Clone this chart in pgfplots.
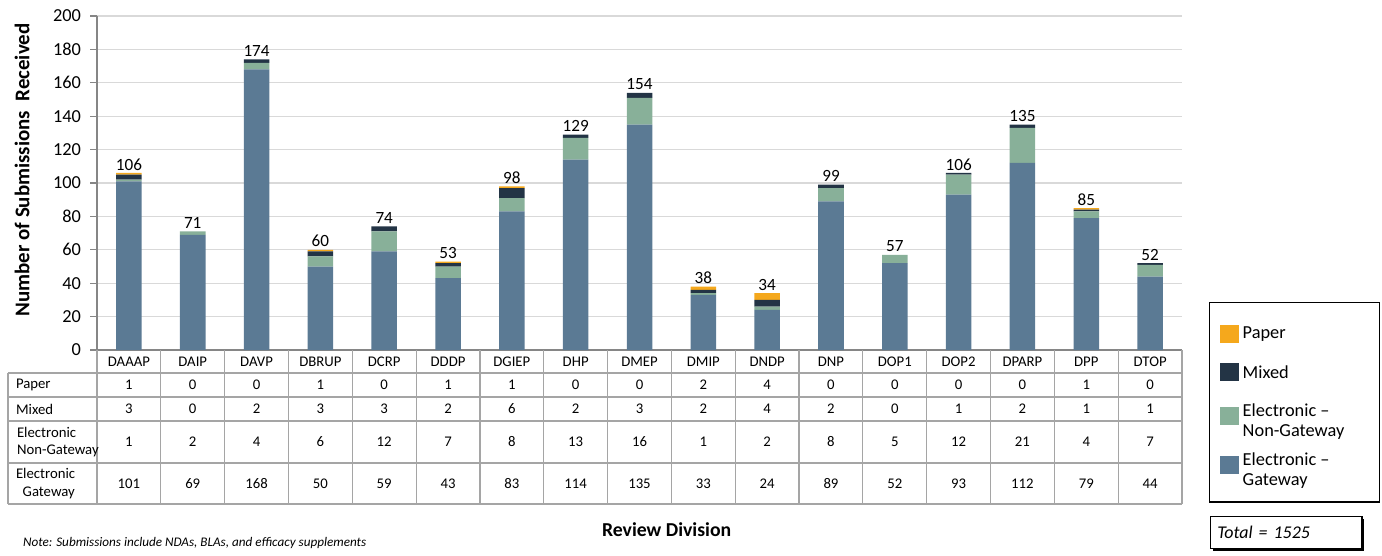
\documentclass[border=0pt]{standalone}
\usepackage{pgfplots}
\pgfplotsset{compat=1.18}
\usepackage{pgfplotstable}
\usepackage{fontspec}
\setmainfont{Carlito}
\usetikzlibrary{shadows}

\definecolor{cpaper}{RGB}{245,168,28}
\definecolor{cmixed}{RGB}{35,52,69}
\definecolor{cnongw}{RGB}{136,176,153}
\definecolor{cgw}{RGB}{91,122,148}
\definecolor{tblline}{RGB}{165,165,165}
\definecolor{axline}{RGB}{134,134,134}
\definecolor{gridc}{RGB}{217,217,217}

% submissions per review division
\pgfplotstableread{
i  div    paper mixed nongw gw  total
0  DAAAP  1     3     1     101 106
1  DAIP   0     0     2     69  71
2  DAVP   0     2     4     168 174
3  DBRUP  1     3     6     50  60
4  DCRP   0     3     12    59  74
5  DDDP   1     2     7     43  53
6  DGIEP  1     6     8     83  98
7  DHP    0     2     13    114 129
8  DMEP   0     3     16    135 154
9  DMIP   2     2     1     33  38
10 DNDP   4     4     2     24  34
11 DNP    0     2     8     89  99
12 DOP1   0     0     5     52  57
13 DOP2   0     1     12    93  106
14 DPARP  0     2     21    112 135
15 DPP    1     1     4     79  85
16 DTOP   0     1     7     44  52
}\subs

\newcommand\tblfont{\fontsize{7.4}{8.6}\selectfont}
\pgfplotsset{
  frame/.style={
    at={(0,0)}, anchor=south west,
    scale only axis, width=542.5bp, height=167bp,
    xmin=-0.5, xmax=16.5, ymin=0, ymax=200,
    /pgf/number format/assume math mode=true,
  }
}

\begin{document}
\begin{tikzpicture}
% page = reference canvas, in pixels
\begin{scope}[x=0.5bp, y=-0.5bp, shift={(-48.5bp,175bp)}]
  \path[use as bounding box] (0,0) rectangle (1382,554);
\end{scope}

\begin{axis}[
    frame,
    ybar stacked, bar width=0.4,
    xtick=\empty,
    ytick={0,20,...,200},
    ytick align=outside, major tick length=3.5bp,
    tick style={axline, line width=0.6pt},
    axis y line*=left, axis x line*=bottom,
    axis line style={axline, line width=0.8pt, -},
    ymajorgrids, major grid style={gridc, line width=0.6pt},
    yticklabel style={font=\fontsize{9.2}{11}\selectfont, xshift=-1bp},
    ylabel={Number of Submissions\ \ Received},
    ylabel style={font=\bfseries\fontsize{10.5}{12}\selectfont,
        at={(axis description cs:-0.069,0.539)}, anchor=center},
    xlabel={Review Division},
    xlabel style={font=\bfseries\fontsize{9.9}{11}\selectfont,
        at={(axis description cs:0.525,-0.539)}, anchor=center},
    clip=false,
    legend cell align=left,
    reverse legend,
    legend image code/.code={\fill[#1] (0,-4.5bp) rectangle (9.5bp,4.5bp);},
    legend style={at={(axis description cs:1.0249,0.1437)}, anchor=north west,
        draw=black, line width=0.7pt, font=\fontsize{9.2}{10}\selectfont,
        inner xsep=5bp, inner ysep=10bp, row sep=8bp},
]
\addplot[fill=cgw, draw=none] table[x=i, y=gw] {\subs};
\addlegendentry{\parbox{61.5bp}{Electronic --\\Gateway}}
\addplot[fill=cnongw, draw=none] table[x=i, y=nongw] {\subs};
\addlegendentry{\parbox{61.5bp}{Electronic --\\Non-Gateway}}
\addplot[fill=cmixed, draw=none] table[x=i, y=mixed] {\subs};
\addlegendentry{\parbox{61.5bp}{Mixed}}
\addplot[fill=cpaper, draw=none] table[x=i, y=paper] {\subs};
\addlegendentry{\parbox{61.5bp}{Paper}}
\end{axis}

% totals above the stacks
\begin{axis}[frame, hide axis, clip=false]
\addplot[draw=none, mark=none, point meta=explicit, nodes near coords,
    every node near coord/.append style={font=\fontsize{8.6}{10}\selectfont, text=black, anchor=south, inner sep=1.2bp}]
    table[x=i, y=total, meta=total] {\subs};
\end{axis}

% data table under the chart, in pixel units of the reference
\begin{scope}[x=0.5bp, y=-0.5bp, shift={(-48.5bp,175bp)}]
  \foreach \k in {0,...,17}
    \draw[tblline, line width=0.6pt] ({97+63.8235*\k},350) -- ({97+63.8235*\k},504);
  \draw[tblline, line width=0.6pt] (8,373) -- (8,504);
  \foreach \yy in {373,397,421,463,504}
    \draw[tblline, line width=0.6pt] (8,\yy) -- (1182,\yy);
  \node[anchor=west, font=\tblfont] at (9,385) {Paper};
  \node[anchor=west, font=\tblfont] at (9,409) {Mixed};
  \node[anchor=west, font=\tblfont, align=left] at (10,442) {Electronic\\Non-Gateway};
  \node[anchor=west, font=\tblfont, align=left] at (9,483.5) {Electronic\\\ \ Gateway};
  \foreach \k in {0,...,16} {
    \pgfmathsetmacro\cx{97+63.8235*(\k+0.5)}
    \pgfplotstablegetelem{\k}{div}\of\subs
    \node[font=\tblfont] at (\cx,362) {\pgfplotsretval};
    \pgfplotstablegetelem{\k}{paper}\of\subs
    \node[font=\tblfont] at (\cx,385) {\pgfplotsretval};
    \pgfplotstablegetelem{\k}{mixed}\of\subs
    \node[font=\tblfont] at (\cx,409) {\pgfplotsretval};
    \pgfplotstablegetelem{\k}{nongw}\of\subs
    \node[font=\tblfont] at (\cx,442) {\pgfplotsretval};
    \pgfplotstablegetelem{\k}{gw}\of\subs
    \node[font=\tblfont] at (\cx,483.5) {\pgfplotsretval};
  }
  \node[anchor=west, font=\itshape\fontsize{6.6}{7.5}\selectfont] at (16,543) {Note: Submissions include NDAs, BLAs, and efficacy supplements};
  \node[draw=black, fill=white, line width=0.6pt, anchor=north west,
        minimum width=75bp, minimum height=16bp, text width=69bp, align=left,
        drop shadow={shadow xshift=1.2bp, shadow yshift=-1.2bp, fill=black, opacity=1},
        font=\itshape\fontsize{9}{10}\selectfont] at (1210,516) {Total = 1525};
\end{scope}
\end{tikzpicture}
\end{document}
